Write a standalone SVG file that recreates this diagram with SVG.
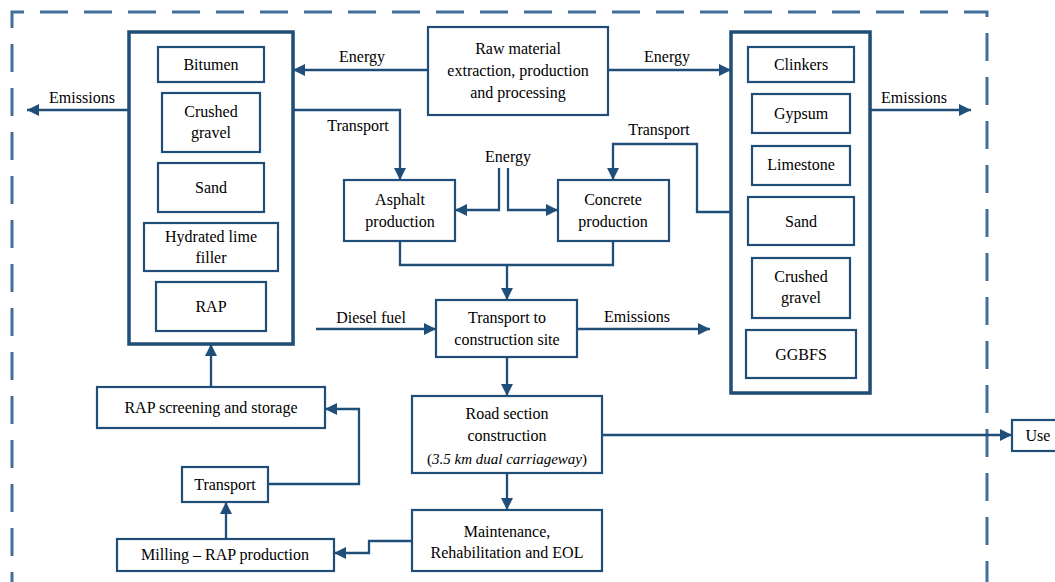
<svg xmlns="http://www.w3.org/2000/svg" width="1055" height="582" viewBox="0 0 1055 582" font-family="Liberation Serif" font-size="16">
  <defs>
    <marker id="arrow" markerWidth="12" markerHeight="12" refX="12" refY="6" orient="auto" markerUnits="userSpaceOnUse">
      <path d="M0,0 L12,6 L0,12 z" fill="#1f4e79"/>
    </marker>
  </defs>

  <rect width="1055" height="582" fill="#fff"/>

  <!-- system boundary -->
  <path id="boundary" d="M12,600 L12,12 L987,12 L987,600" fill="none" stroke="#41719c" stroke-width="3" stroke-dasharray="28 16"/>

  <!-- asphalt raw materials -->
  <g id="asphalt-materials">
    <rect x="131" y="34" width="164" height="312" fill="#000" opacity="0.15"/>
    <rect x="129" y="32" width="164" height="312" fill="#fff" stroke="#1f4e79" stroke-width="3.5"/>
    <rect x="158" y="47" width="106" height="35" fill="#fff" stroke="#1f4e79" stroke-width="2.2"/>
    <text x="211" y="70" font-family="Liberation Serif" font-size="16" text-anchor="middle">Bitumen</text>
    <rect x="162" y="93" width="98" height="59" fill="#fff" stroke="#1f4e79" stroke-width="2.2"/>
    <text x="211" y="117" font-family="Liberation Serif" font-size="16" text-anchor="middle">Crushed</text>
    <text x="211" y="138" font-family="Liberation Serif" font-size="16" text-anchor="middle">gravel</text>
    <rect x="158" y="163" width="106" height="49" fill="#fff" stroke="#1f4e79" stroke-width="2.2"/>
    <text x="211" y="193" font-family="Liberation Serif" font-size="16" text-anchor="middle">Sand</text>
    <rect x="144" y="223" width="134" height="48" fill="#fff" stroke="#1f4e79" stroke-width="2.2"/>
    <text x="211" y="242" font-family="Liberation Serif" font-size="16" text-anchor="middle">Hydrated lime</text>
    <text x="211" y="263" font-family="Liberation Serif" font-size="16" text-anchor="middle">filler</text>
    <rect x="156" y="282" width="110" height="49" fill="#fff" stroke="#1f4e79" stroke-width="2.2"/>
    <text x="211" y="312" font-family="Liberation Serif" font-size="16" text-anchor="middle">RAP</text>
  </g>

  <!-- concrete raw materials -->
  <g id="concrete-materials">
    <rect x="733" y="34" width="139" height="361" fill="#000" opacity="0.15"/>
    <rect x="731" y="32" width="139" height="361" fill="#fff" stroke="#1f4e79" stroke-width="3.5"/>
    <rect x="748" y="47" width="106" height="35" fill="#fff" stroke="#1f4e79" stroke-width="2.2"/>
    <text x="801" y="70" font-family="Liberation Serif" font-size="16" text-anchor="middle">Clinkers</text>
    <rect x="752" y="94" width="98" height="39" fill="#fff" stroke="#1f4e79" stroke-width="2.2"/>
    <text x="801" y="119" font-family="Liberation Serif" font-size="16" text-anchor="middle">Gypsum</text>
    <rect x="752" y="146" width="98" height="39" fill="#fff" stroke="#1f4e79" stroke-width="2.2"/>
    <text x="801" y="170" font-family="Liberation Serif" font-size="16" text-anchor="middle">Limestone</text>
    <rect x="748" y="197" width="106" height="48" fill="#fff" stroke="#1f4e79" stroke-width="2.2"/>
    <text x="801" y="227" font-family="Liberation Serif" font-size="16" text-anchor="middle">Sand</text>
    <rect x="752" y="258" width="98" height="60" fill="#fff" stroke="#1f4e79" stroke-width="2.2"/>
    <text x="801" y="282" font-family="Liberation Serif" font-size="16" text-anchor="middle">Crushed</text>
    <text x="801" y="303" font-family="Liberation Serif" font-size="16" text-anchor="middle">gravel</text>
    <rect x="746" y="330" width="110" height="48" fill="#fff" stroke="#1f4e79" stroke-width="2.2"/>
    <text x="801" y="360" font-family="Liberation Serif" font-size="16" text-anchor="middle">GGBFS</text>
  </g>

  <g id="raw-material">
    <rect x="428" y="27" width="180" height="88" fill="#fff" stroke="#1f4e79" stroke-width="2.2"/>
    <text x="518" y="54" font-family="Liberation Serif" font-size="16" text-anchor="middle">Raw material</text>
    <text x="518" y="76" font-family="Liberation Serif" font-size="16" text-anchor="middle">extraction, production</text>
    <text x="518" y="98" font-family="Liberation Serif" font-size="16" text-anchor="middle">and processing</text>
  </g>

  <g id="asphalt-production">
    <rect x="344" y="180" width="111" height="61" fill="#fff" stroke="#1f4e79" stroke-width="2.2"/>
    <text x="400" y="205" font-family="Liberation Serif" font-size="16" text-anchor="middle">Asphalt</text>
    <text x="400" y="227" font-family="Liberation Serif" font-size="16" text-anchor="middle">production</text>
  </g>

  <g id="concrete-production">
    <rect x="558" y="180" width="111" height="61" fill="#fff" stroke="#1f4e79" stroke-width="2.2"/>
    <text x="613" y="205" font-family="Liberation Serif" font-size="16" text-anchor="middle">Concrete</text>
    <text x="613" y="227" font-family="Liberation Serif" font-size="16" text-anchor="middle">production</text>
  </g>

  <g id="transport-site">
    <rect x="436" y="300" width="141" height="57" fill="#fff" stroke="#1f4e79" stroke-width="2.2"/>
    <text x="507" y="323" font-family="Liberation Serif" font-size="16" text-anchor="middle">Transport to</text>
    <text x="507" y="345" font-family="Liberation Serif" font-size="16" text-anchor="middle">construction site</text>
  </g>

  <g id="road-construction">
    <rect x="412" y="396" width="190" height="77" fill="#fff" stroke="#1f4e79" stroke-width="2.2"/>
    <text x="507" y="419" font-family="Liberation Serif" font-size="16" text-anchor="middle">Road section</text>
    <text x="507" y="441" font-family="Liberation Serif" font-size="16" text-anchor="middle">construction</text>
    <text x="507" y="464" font-family="Liberation Serif" font-size="15" text-anchor="middle">(<tspan font-style="italic">3.5 km dual carriageway</tspan>)</text>
  </g>

  <g id="maintenance">
    <rect x="412" y="510" width="190" height="61" fill="#fff" stroke="#1f4e79" stroke-width="2.2"/>
    <text x="507" y="537" font-family="Liberation Serif" font-size="16" text-anchor="middle">Maintenance,</text>
    <text x="507" y="558" font-family="Liberation Serif" font-size="16" text-anchor="middle">Rehabilitation and EOL</text>
  </g>

  <g id="use">
    <rect x="1012" y="420" width="50" height="31" fill="#fff" stroke="#1f4e79" stroke-width="2.2"/>
    <text x="1038" y="441" font-family="Liberation Serif" font-size="16" text-anchor="middle">Use</text>
  </g>

  <g id="milling">
    <rect x="117" y="539" width="217" height="32" fill="#fff" stroke="#1f4e79" stroke-width="2.2"/>
    <text x="225" y="560" font-family="Liberation Serif" font-size="16" text-anchor="middle">Milling – RAP production</text>
  </g>

  <g id="rap-transport">
    <rect x="182" y="467" width="86" height="35" fill="#fff" stroke="#1f4e79" stroke-width="2.2"/>
    <text x="225" y="490" font-family="Liberation Serif" font-size="16" text-anchor="middle">Transport</text>
  </g>

  <g id="rap-screening">
    <rect x="97" y="387" width="228" height="41" fill="#fff" stroke="#1f4e79" stroke-width="2.2"/>
    <text x="211" y="413" font-family="Liberation Serif" font-size="16" text-anchor="middle">RAP screening and storage</text>
  </g>

  <!-- connectors -->
  <g id="connectors">
    <g fill="none" stroke="#1f4e79" stroke-width="2.3" marker-end="url(#arrow)">
      <path d="M428,70 L293,70"/>
      <path d="M608,70 L731,70"/>
      <path d="M129,110 L27,110"/>
      <path d="M870,110 L971,110"/>
      <path d="M293,110 L400,110 L400,180"/>
      <path d="M731,212 L697,212 L697,144 L613,144 L613,180"/>
      <path d="M499,168 L499,210 L455,210"/>
      <path d="M508,168 L508,210 L558,210"/>
      <path d="M507,265 L507,300"/>
      <path d="M316,329 L436,329"/>
      <path d="M577,329 L710,329"/>
      <path d="M507,357 L507,396"/>
      <path d="M602,435 L1012,435"/>
      <path d="M507,473 L507,510"/>
      <path d="M412,541 L369,541 L369,553 L334,553"/>
      <path d="M226,539 L226,502"/>
      <path d="M268,484 L359,484 L359,409 L325,409"/>
      <path d="M211,387 L211,344"/>
    </g>
    <path d="M400,241 L400,265 L613,265 L613,241" fill="none" stroke="#1f4e79" stroke-width="2.3"/>

    <text x="362" y="62" font-family="Liberation Serif" font-size="16" text-anchor="middle">Energy</text>
    <text x="667" y="62" font-family="Liberation Serif" font-size="16" text-anchor="middle">Energy</text>
    <text x="82" y="103" font-family="Liberation Serif" font-size="16" text-anchor="middle">Emissions</text>
    <text x="914" y="103" font-family="Liberation Serif" font-size="16" text-anchor="middle">Emissions</text>
    <text x="358" y="131" font-family="Liberation Serif" font-size="16" text-anchor="middle">Transport</text>
    <text x="659" y="135" font-family="Liberation Serif" font-size="16" text-anchor="middle">Transport</text>
    <text x="508" y="162" font-family="Liberation Serif" font-size="16" text-anchor="middle">Energy</text>
    <text x="371" y="323" font-family="Liberation Serif" font-size="16" text-anchor="middle">Diesel fuel</text>
    <text x="637" y="322" font-family="Liberation Serif" font-size="16" text-anchor="middle">Emissions</text>
  </g>
</svg>
